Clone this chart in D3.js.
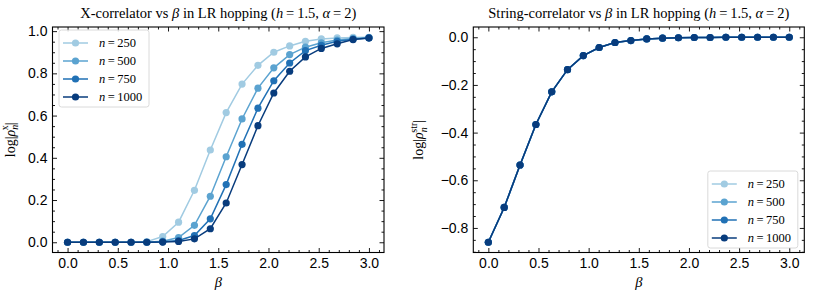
<!DOCTYPE html>
<html>
<head>
<meta charset="utf-8">
<script src="https://cdn.jsdelivr.net/npm/d3@7"></script>
<style>
  body { margin: 0; background: #fff; }
  svg { display: block; font-family: 'Liberation Serif', 'DejaVu Serif', serif; }
  .tick text { font-size: 14px; fill: #000; }
  .tick line { stroke: #000; stroke-width: 0.9; }
</style>
</head>
<body>
<svg width="818" height="295"></svg>
<script>
// data
var beta = [0, 0.158, 0.316, 0.474, 0.632, 0.789, 0.947, 1.105, 1.263, 1.421,
            1.579, 1.737, 1.895, 2.053, 2.211, 2.368, 2.526, 2.684, 2.842, 3.0];

var sizes = ['250', '500', '750', '1000'];

// X-correlator, one array per system size
var xCorr250  = [0, 0, 0, 0, 0, 0.003, 0.027, 0.095, 0.246, 0.437, 0.614, 0.749, 0.838, 0.900, 0.930, 0.952, 0.963, 0.968, 0.970, 0.971];
var xCorr500  = [0, 0, 0, 0, 0, 0, 0.005, 0.022, 0.080, 0.218, 0.405, 0.584, 0.730, 0.826, 0.889, 0.924, 0.945, 0.958, 0.965, 0.969];
var xCorr750  = [0, 0, 0, 0, 0, 0, 0.002, 0.008, 0.032, 0.111, 0.273, 0.464, 0.635, 0.765, 0.849, 0.908, 0.933, 0.952, 0.962, 0.968];
var xCorr1000 = [0, 0, 0, 0, 0, 0, 0.001, 0.004, 0.016, 0.064, 0.186, 0.368, 0.552, 0.707, 0.810, 0.878, 0.918, 0.940, 0.960, 0.967];

// string correlator, the four sizes lie on top of each other
var strCorr = [-0.860, -0.714, -0.536, -0.366, -0.229, -0.136, -0.077, -0.043, -0.022, -0.014,
               -0.007, -0.004, -0.002, -0.001, -0.001, 0, 0, 0, 0, 0];

var colors = ['#a1cbe2', '#5ba3d0', '#2171b5', '#083c7d'];

var svg = d3.select('svg');

// build "log|rho_n^sup|" label
function rhoLabel(t, sup) {
    t.append('tspan').text('log|');
    t.append('tspan').attr('font-style', 'italic').text('ρ');
    t.append('tspan').attr('font-style', 'italic').attr('font-size', '10px').attr('dy', 3.5).text('n');
    t.append('tspan').attr('font-size', '10px').attr('dx', -5.5).attr('dy', -10).text(sup);
    t.append('tspan').attr('dy', 6.5).text('|');
}

function title(t, name) {
    t.append('tspan').text(name + ' vs ');
    t.append('tspan').attr('font-style', 'italic').text('β');
    t.append('tspan').text(' in LR hopping (');
    t.append('tspan').attr('font-style', 'italic').text('h');
    t.append('tspan').text('\u2009=\u20091.5, ');
    t.append('tspan').attr('font-style', 'italic').text('α');
    t.append('tspan').text('\u2009=\u20092)');
}

function drawPanel(cfg) {
    var g = svg.append('g').attr('transform', 'translate(' + cfg.left + ',' + cfg.top + ')');
    var w = cfg.width, h = cfg.height;

    var yExt = d3.extent(d3.merge(cfg.series));
    var pad = (yExt[1] - yExt[0]) * 0.05;

    var x = d3.scaleLinear().domain([-0.15, 3.15]).range([0, w]);
    var y = d3.scaleLinear().domain([yExt[0] - pad, yExt[1] + pad]).range([h, 0]);

    var xMajor = d3.range(0, 3.01, 0.5);
    var xMinor = d3.range(-0.1, 3.15, 0.1).filter(function(v) { return Math.abs(v * 2 - Math.round(v * 2)) > 1e-6; });
    var yMajor = cfg.yMajor;
    var yMinor = d3.range(cfg.yMinorStart, y.domain()[1], 0.05).filter(function(v) {
        return v > y.domain()[0] && Math.abs(v / 0.2 - Math.round(v / 0.2)) > 1e-6;
    });

    var fmt = d3.format('.1f');

    // major ticks, all sides inward
    g.append('g').attr('transform', 'translate(0,' + h + ')')
        .call(d3.axisBottom(x).tickValues(xMajor).tickFormat(fmt).tickSizeInner(-4.5).tickSizeOuter(0).tickPadding(6));
    g.append('g').call(d3.axisTop(x).tickValues(xMajor).tickFormat('').tickSizeInner(-4.5).tickSizeOuter(0));
    g.append('g')
        .call(d3.axisLeft(y).tickValues(yMajor).tickFormat(fmt).tickSizeInner(-4.5).tickSizeOuter(0).tickPadding(5));
    g.append('g').attr('transform', 'translate(' + w + ',0)')
        .call(d3.axisRight(y).tickValues(yMajor).tickFormat('').tickSizeInner(-4.5).tickSizeOuter(0));

    // minor ticks
    g.append('g').attr('transform', 'translate(0,' + h + ')')
        .call(d3.axisBottom(x).tickValues(xMinor).tickFormat('').tickSizeInner(-2.5).tickSizeOuter(0));
    g.append('g').call(d3.axisTop(x).tickValues(xMinor).tickFormat('').tickSizeInner(-2.5).tickSizeOuter(0));
    g.append('g').call(d3.axisLeft(y).tickValues(yMinor).tickFormat('').tickSizeInner(-2.5).tickSizeOuter(0));
    g.append('g').attr('transform', 'translate(' + w + ',0)')
        .call(d3.axisRight(y).tickValues(yMinor).tickFormat('').tickSizeInner(-2.5).tickSizeOuter(0));

    g.selectAll('.domain').remove();

    // lines and markers
    var line = d3.line().x(function(d, i) { return x(beta[i]); }).y(function(d) { return y(d); });
    cfg.series.forEach(function(s, k) {
        g.append('path').datum(s)
            .attr('d', line)
            .attr('fill', 'none')
            .attr('stroke', colors[k])
            .attr('stroke-width', 1.5);
        g.selectAll('.pt' + k).data(s).enter().append('circle')
            .attr('class', 'pt' + k)
            .attr('cx', function(d, i) { return x(beta[i]); })
            .attr('cy', function(d) { return y(d); })
            .attr('r', 3.6)
            .attr('fill', colors[k]);
    });

    // frame
    g.append('rect').attr('width', w).attr('height', h)
        .attr('fill', 'none').attr('stroke', '#000').attr('stroke-width', 1.1);

    // title
    title(g.append('text').attr('x', w / 2).attr('y', -9).attr('text-anchor', 'middle')
        .style('font-size', '14.5px'), cfg.name);

    // x label
    g.append('text').attr('x', w / 2).attr('y', h + 34).attr('text-anchor', 'middle')
        .style('font-size', '14.5px').style('font-style', 'italic').text('β');

    // y label
    rhoLabel(g.append('text').attr('transform', 'translate(' + cfg.ylabX + ',' + (h / 2) + ') rotate(-90)')
        .attr('text-anchor', 'middle').style('font-size', '14px'), cfg.sup);

    // legend
    var lg = g.append('g').attr('transform', 'translate(' + cfg.legX + ',' + cfg.legY + ')');
    lg.append('rect').attr('width', 90).attr('height', 77).attr('rx', 2.5)
        .attr('fill', '#fff').attr('fill-opacity', 0.8)
        .attr('stroke', '#d0d0d0').attr('stroke-width', 0.8);
    sizes.forEach(function(n, k) {
        var row = lg.append('g').attr('transform', 'translate(0,' + (13 + k * 18) + ')');
        row.append('line').attr('x1', 4).attr('x2', 29).attr('stroke', colors[k]).attr('stroke-width', 1.5);
        row.append('circle').attr('cx', 16.5).attr('r', 3.6).attr('fill', colors[k]);
        var t = row.append('text').attr('x', 40).attr('dy', '0.35em').style('font-size', '12.5px');
        t.append('tspan').attr('font-style', 'italic').text('n');
        t.append('tspan').text('\u2009=\u2009' + n);
    });
}

drawPanel({
    name: 'X-correlator', sup: 'x',
    left: 52.5, top: 27, width: 331.5, height: 225.5,
    series: [xCorr250, xCorr500, xCorr750, xCorr1000],
    yMajor: [0, 0.2, 0.4, 0.6, 0.8, 1.0], yMinorStart: -0.05,
    ylabX: -38, legX: 6.5, legY: 3
});

drawPanel({
    name: 'String-correlator', sup: 'str',
    left: 473.3, top: 27, width: 331, height: 225.5,
    series: [strCorr, strCorr, strCorr, strCorr],
    yMajor: [-0.8, -0.6, -0.4, -0.2, 0], yMinorStart: -0.9,
    ylabX: -50, legX: 234.5, legY: 144
});
</script>
</body>
</html>
